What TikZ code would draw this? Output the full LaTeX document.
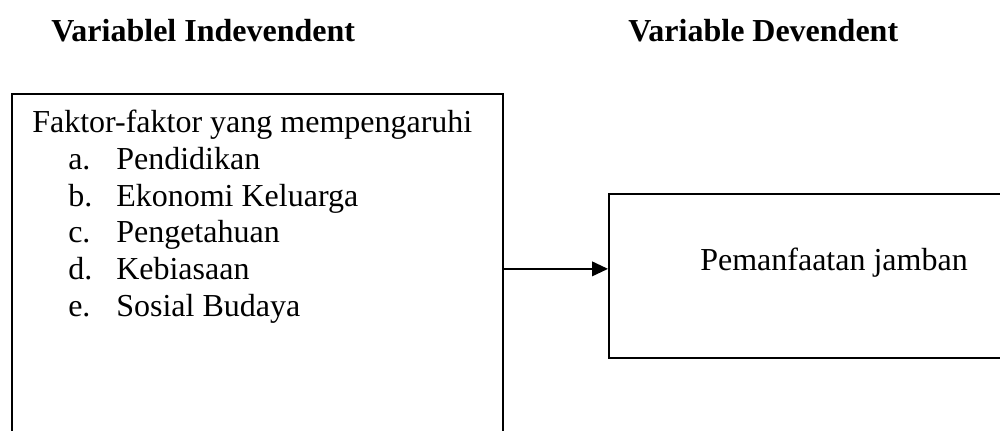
\documentclass[tikz,border=0pt]{standalone}
\usepackage{fontspec}
\setmainfont{Liberation Serif}
\usetikzlibrary{arrows.meta,positioning}
\tikzset{
  kotak/.style={draw,line width=1.3pt,inner sep=0pt},
  teks/.style={inner sep=0pt,font=\fontsize{24}{27.5}\selectfont},
  judul/.style={inner sep=0pt,font=\fontsize{24}{27.5}\selectfont\bfseries},
  panah/.style={line width=1.3pt,-{Triangle[length=12pt,width=11pt]}},
}
\newcommand{\butir}[2]{\hspace*{27pt}\makebox[36pt][l]{#1}#2}

\begin{document}
\begin{tikzpicture}[x=0.75pt,y=-0.75pt]
  \useasboundingbox (0,0) rectangle (1000,431);
  \clip (0,0) rectangle (1000,431);
  % judul
  \node[judul,anchor=base west] (judulx) at (51,42) {Variablel Indevendent};
  \node[judul,anchor=base west] (juduly) at (628,42) {Variable Devendent};
  % variabel independen
  \node[kotak,anchor=north west,minimum width=368.25pt,minimum height=262.5pt] (faktor) at (11,93) {};
  \node[teks,anchor=base west,align=left] (daftar) at (32,316) {Faktor-faktor yang mempengaruhi\\
    \butir{a.}{Pendidikan}\\
    \butir{b.}{Ekonomi Keluarga}\\
    \butir{c.}{Pengetahuan}\\
    \butir{d.}{Kebiasaan}\\
    \butir{e.}{Sosial Budaya}};
  % variabel dependen
  \node[kotak,anchor=north west,minimum width=339pt,minimum height=123pt] (jamban) at (608,193) {};
  \node[teks,anchor=base] (jambantxt) at (834,271) {Pemanfaatan jamban};
  % panah
  \draw[panah] (faktor.east) -- (faktor.east -| jamban.west);
\end{tikzpicture}
\end{document}
